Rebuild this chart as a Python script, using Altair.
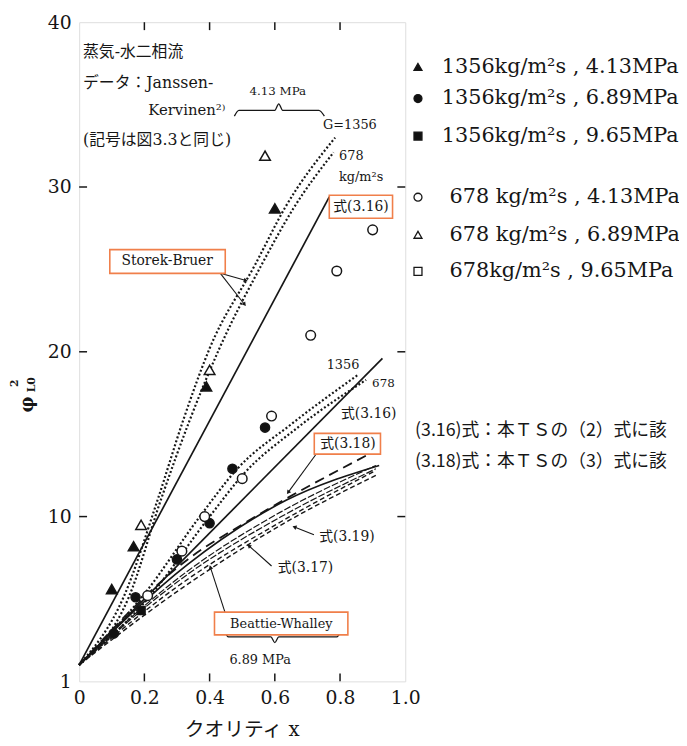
import math
import altair as alt
import pandas as pd

# ---------------- values ----------------
# measured points: quality x  ->  phi_L0^2
g1356_p413_x = [0.10, 0.167, 0.39, 0.60]
g1356_p413_y = [5.6, 8.2, 17.9, 28.7]
g1356_p689_x = [0.106, 0.173, 0.30, 0.40, 0.47, 0.57]
g1356_p689_y = [2.9, 5.1, 7.4, 9.6, 12.9, 15.4]
g1356_p965_x = [0.19]
g1356_p965_y = [4.3]
g678_p413_x = [0.21, 0.315, 0.385, 0.50, 0.59, 0.71, 0.79, 0.90]
g678_p413_y = [5.2, 7.9, 10.0, 12.3, 16.1, 21.0, 24.9, 27.4]
g678_p689_x = [0.19, 0.40, 0.57]
g678_p689_y = [9.5, 18.9, 31.9]

# correlation curves
sb413_1356_x = [0, 0.136, 0.242, 0.32, 0.40, 0.54, 0.63, 0.785]
sb413_1356_y = [1, 5.1, 11.1, 15.9, 20.2, 25.3, 28.7, 33.0]
sb413_678_x = [0, 0.152, 0.252, 0.34, 0.43, 0.56, 0.657, 0.78]
sb413_678_y = [1, 5.1, 11.1, 15.9, 20.2, 25.3, 28.7, 32.1]
eq316_413_x = [0, 0.767]
eq316_413_y = [1, 29.4]
sb689_1356_x = [0, 0.20, 0.37, 0.485, 0.65, 0.855]
sb689_1356_y = [1, 5.3, 10.0, 12.9, 15.6, 18.6]
sb689_678_x = [0, 0.21, 0.40, 0.505, 0.67, 0.88]
sb689_678_y = [1, 5.0, 10.0, 12.6, 15.4, 18.3]
eq316_689_x = [0, 0.93]
eq316_689_y = [1, 19.6]
longdash_x = [0, 0.333, 0.515, 0.89]
longdash_y = [1, 7.4, 9.7, 13.8]
eq318_x = [0, 0.333, 0.636, 0.92]
eq318_y = [1, 7.1, 11.0, 13.1]
low_x = [0, 0.333, 0.62, 0.91]
eq319_y = [1, 6.7, 10.3, 13.1]
eq317_y = [1, 6.5, 10.0, 12.9]
bw1356_y = [1, 6.2, 9.7, 12.8]
bw678_y = [1, 5.9, 9.5, 12.5]

# axis ticks
x_ticks = [0, 0.2, 0.4, 0.6, 0.8, 1.0]
y_ticks = [0, 10, 20, 30, 40]
x_inner_ticks = [0.2, 0.4, 0.6, 0.8]
y_inner_ticks = [10, 20, 30]

# legend
legend_labels = ["1356kg/m²s , 4.13MPa", "1356kg/m²s , 6.89MPa", "1356kg/m²s , 9.65MPa",
                 "678 kg/m²s , 4.13MPa", "678 kg/m²s , 6.89MPa", "678kg/m²s , 9.65MPa"]
legend_shapes = ["triangle-up", "circle", "square", "circle", "triangle-up", "square"]
legend_fills = ["#111", "#111", "#111", "white", "white", "white"]
legend_y = [37.29, 35.37, 33.09, 29.38, 27.1, 24.88]
legend_text_x = [1.112, 1.112, 1.112, 1.136, 1.136, 1.136]
legend_marker_x = 1.039

side_notes = ["(3.16)式：本ＴＳの（2）式に該", "(3.18)式：本ＴＳの（3）式に該"]
side_notes_y = [15.17, 13.3]

SERIF = "DejaVu Serif, Noto Sans CJK JP"
JP = "Noto Sans CJK JP"
INK = "#161616"
ORANGE = "#f07f4a"
W, H = 330, 667
XS = alt.Scale(domain=[0, 1], nice=False, zero=False)
YS = alt.Scale(domain=[0, 40], nice=False, zero=False)
XA = alt.Axis(values=x_ticks, labelExpr="datum.value == 0 ? '0' : format(datum.value, '.1f')",
              ticks=False, tickSize=0, domain=False, grid=False, title=None, labelFlush=False,
              labelFont=SERIF, labelFontSize=19, labelColor=INK, labelPadding=7)
YA = alt.Axis(values=y_ticks, labelExpr="datum.value == 0 ? '1' : datum.label",
              ticks=False, tickSize=0, domain=False, grid=False, title=None, labelFlush=False,
              labelFont=SERIF, labelFontSize=19, labelColor=INK, labelPadding=8)


def X(f="x"):
    return alt.X(f"{f}:Q", scale=XS, axis=XA)


def Y(f="y"):
    return alt.Y(f"{f}:Q", scale=YS, axis=YA)


layers = []

# ---- curves
styles = {
    "dot": dict(strokeDash=[2, 2.2], strokeWidth=2.2),
    "solid": dict(strokeWidth=1.7),
    "long": dict(strokeDash=[10, 6], strokeWidth=1.8),
    "dash": dict(strokeDash=[5, 3], strokeWidth=1.4),
    "thin": dict(strokeDash=[7, 2], strokeWidth=1.2),
}
curves = [
    (sb413_1356_x, sb413_1356_y, "dot"),
    (sb413_678_x, sb413_678_y, "dot"),
    (eq316_413_x, eq316_413_y, "solid"),
    (sb689_1356_x, sb689_1356_y, "dot"),
    (sb689_678_x, sb689_678_y, "dot"),
    (eq316_689_x, eq316_689_y, "solid"),
    (longdash_x, longdash_y, "long"),
    (eq318_x, eq318_y, "solid"),
    (low_x, eq319_y, "thin"),
    (low_x, eq317_y, "thin"),
    (low_x, bw1356_y, "dash"),
    (low_x, bw678_y, "dash"),
]
for xs, ys, st in curves:
    df = pd.DataFrame({"x": xs, "y": ys})
    layers.append(alt.Chart(df).mark_line(color=INK, interpolate="monotone", **styles[st])
                  .encode(x=X(), y=Y()))

# ---- inner ticks
ty = pd.DataFrame({"y": y_inner_ticks})
tx = pd.DataFrame({"x": x_inner_ticks})
layers.append(alt.Chart(ty).mark_rule(color=INK, strokeWidth=1.5).encode(y=Y(), x=alt.value(0), x2=alt.value(8)))
layers.append(alt.Chart(ty).mark_rule(color=INK, strokeWidth=1.5).encode(y=Y(), x=alt.value(W - 8), x2=alt.value(W)))
layers.append(alt.Chart(tx).mark_rule(color=INK, strokeWidth=1.5).encode(x=X(), y=alt.value(H - 8), y2=alt.value(H)))
layers.append(alt.Chart(tx).mark_rule(color=INK, strokeWidth=1.5).encode(x=X(), y=alt.value(0), y2=alt.value(8)))

# ---- arrows
arrows = [  # from (x, y) to (x2, y2)
    (0.433, 24.76, 0.509, 24.34),
    (0.433, 24.76, 0.506, 22.9),
    (0.727, 13.8, 0.642, 11.5),
    (0.72, 8.9, 0.662, 9.35),
    (0.59, 7.0, 0.522, 8.2),
    (0.449, 4.08, 0.403, 6.89),
]
adf = pd.DataFrame(arrows, columns=["x", "y", "x2", "y2"])
adf["ang"] = [(math.degrees(math.atan2((b[2] - b[0]) * W, (b[3] - b[1]) * H / 40)) + 360) % 360 for b in arrows]
layers.append(alt.Chart(adf).mark_rule(color=INK, strokeWidth=1.1)
              .encode(x=X(), y=Y(), x2=alt.X2("x2:Q"), y2=alt.Y2("y2:Q")))
layers.append(alt.Chart(adf).mark_point(shape="triangle", filled=True, color=INK, size=22, opacity=1)
              .encode(x=X("x2"), y=Y("y2"), angle=alt.Angle("ang:Q", scale=None)))

# ---- braces
brace_top_x = [0.476, 0.49, 0.60, 0.612, 0.624, 0.735, 0.752]
brace_top_y = [34.3, 34.65, 34.65, 35.05, 34.65, 34.65, 34.3]
brace_bot_x = [0.445, 0.458, 0.588, 0.60, 0.612, 0.79, 0.803]
brace_bot_y = [3.05, 2.7, 2.7, 2.35, 2.7, 2.7, 3.05]
for bx, by in [(brace_top_x, brace_top_y), (brace_bot_x, brace_bot_y)]:
    layers.append(alt.Chart(pd.DataFrame({"x": bx, "y": by, "o": range(len(bx))}))
                  .mark_line(color=INK, strokeWidth=1.3, interpolate="monotone")
                  .encode(x=X(), y=Y(), order="o:O"))

# ---- boxes
boxes = [(0.767, 28.1, 0.961, 29.5), (0.094, 24.76, 0.448, 26.2),
         (0.721, 13.79, 0.924, 15.05), (0.415, 2.82, 0.824, 4.2)]
bdf = pd.DataFrame(boxes, columns=["x", "y", "x2", "y2"])
layers.append(alt.Chart(bdf).mark_rect(fill="white", stroke=ORANGE, strokeWidth=1.6)
              .encode(x=X(), y=Y(), x2=alt.X2("x2:Q"), y2=alt.Y2("y2:Q")))

# ---- measured points
groups = [
    (g1356_p413_x, g1356_p413_y, "triangle-up", "#111", 115),
    (g1356_p689_x, g1356_p689_y, "circle", "#111", 85),
    (g1356_p965_x, g1356_p965_y, "square", "#111", 65),
    (g678_p413_x, g678_p413_y, "circle", "white", 95),
    (g678_p689_x, g678_p689_y, "triangle-up", "white", 115),
]
for xs, ys, shp, fill, sz in groups:
    layers.append(alt.Chart(pd.DataFrame({"x": xs, "y": ys}))
                  .mark_point(shape=shp, filled=True, fill=fill, stroke=INK, strokeWidth=1.5, size=sz, opacity=1)
                  .encode(x=X(), y=Y()))

# ---- annotation texts
notes = [
    ("蒸気-水二相流", 0.012, 38.2, 16, "left"),
    ("データ：Janssen-", 0.012, 36.3, 16, "left"),
    ("Kervinen²⁾", 0.212, 34.65, 15, "left"),
    ("(記号は図3.3と同じ)", 0.012, 32.85, 16, "left"),
    ("4.13 MPa", 0.609, 35.8, 12, "center"),
    ("G=1356", 0.748, 33.75, 13, "left"),
    ("678", 0.797, 31.9, 13, "left"),
    ("kg/m²s", 0.797, 30.6, 13, "left"),
    ("式(3.16)", 0.864, 28.8, 14, "center"),
    ("Storek-Bruer", 0.27, 25.5, 14, "center"),
    ("1356", 0.809, 19.2, 13, "center"),
    ("678", 0.933, 18.1, 12, "center"),
    ("式(3.16)", 0.888, 16.2, 14, "center"),
    ("式(3.18)", 0.824, 14.4, 14, "center"),
    ("式(3.19)", 0.821, 8.75, 14, "center"),
    ("式(3.17)", 0.694, 6.9, 14, "center"),
    ("Beattie-Whalley", 0.62, 3.5, 13, "center"),
    ("6.89 MPa", 0.555, 1.32, 13, "center"),
    ("クオリティ x", 0.5, -2.95, 20, "center"),
]
for t, x, y, s, a in notes:
    layers.append(alt.Chart(pd.DataFrame({"x": [x], "y": [y], "t": [t]}))
                  .mark_text(font=SERIF, fontSize=s, align=a, baseline="middle", color=INK)
                  .encode(x=X(), y=Y(), text="t:N"))

# y-axis title  phi^2_L0 (rotated)
ytitle = [("φ", -0.158, 16.8, 18), ("2", -0.197, 18.1, 11), ("L0", -0.145, 18.0, 11)]
for t, x, y, s in ytitle:
    layers.append(alt.Chart(pd.DataFrame({"x": [x], "y": [y], "t": [t]}))
                  .mark_text(font=SERIF, fontSize=s, angle=270, align="center", baseline="middle",
                             color=INK, fontWeight="bold")
                  .encode(x=X(), y=Y(), text="t:N"))

# ---- legend (outside the frame)
ldf = pd.DataFrame({"y": legend_y, "t": legend_labels, "tx": legend_text_x,
                    "x": [legend_marker_x] * 6})
for i in range(6):
    row = ldf.iloc[[i]]
    layers.append(alt.Chart(row).mark_point(shape=legend_shapes[i], filled=True, fill=legend_fills[i],
                                            stroke=INK, strokeWidth=1.3, size=65, opacity=1)
                  .encode(x=X(), y=Y()))
layers.append(alt.Chart(ldf).mark_text(font=SERIF, fontSize=21, align="left", baseline="middle", color=INK)
              .encode(x=X("tx"), y=Y(), text="t:N"))

ndf = pd.DataFrame({"x": [1.03, 1.03], "y": side_notes_y, "t": side_notes})
layers.append(alt.Chart(ndf).mark_text(font=JP, fontSize=18, align="left", baseline="middle", color=INK)
              .encode(x=X(), y=Y(), text="t:N"))

chart = (alt.layer(*layers)
         .properties(width=W, height=H, autosize=alt.AutoSizeParams(type="none"),
                     padding={"left": 72, "top": 10, "right": 277, "bottom": 59})
         .configure_view(stroke=INK, strokeWidth=2)
         .configure(background="white"))

chart.save("out.html", embed_options={"renderer": "svg", "actions": False})
